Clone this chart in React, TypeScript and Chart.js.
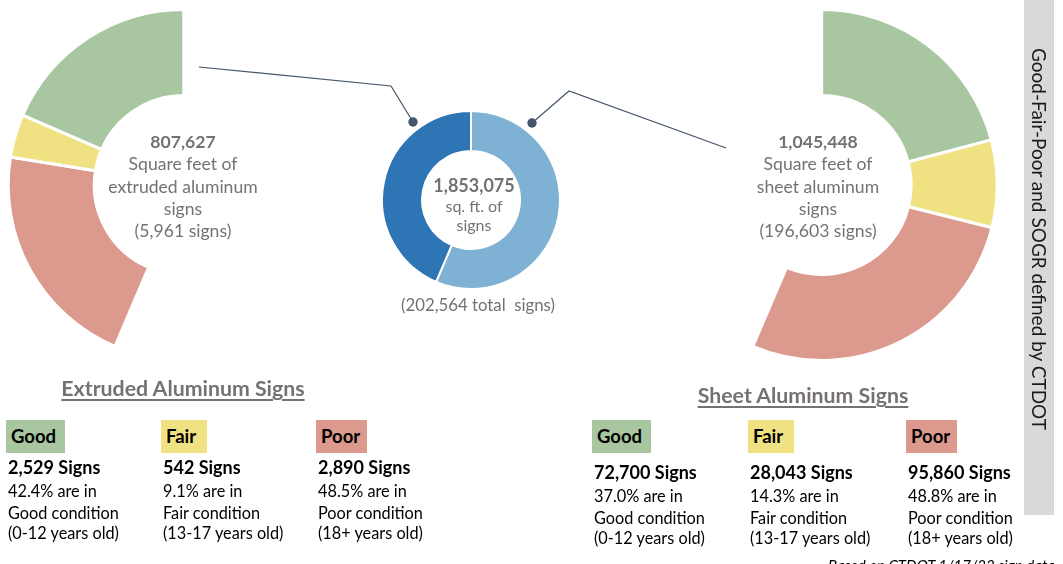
import { useEffect, useRef } from "react";
import { Chart, registerables } from "chart.js";
Chart.register(...registerables);

// ---------- data ----------
const conditions = ["Good", "Fair", "Poor"];
const ageRanges = ["(0-12 years old)", "(13-17 years old)", "(18+ years old)"];
const extrudedSigns = [2529, 542, 2890];
const sheetSigns = [72700, 28043, 95860];
const extrudedPct = ["42.4%", "9.1%", "48.5%"];
const sheetPct = ["37.0%", "14.3%", "48.8%"];
const materials = ["Sheet aluminum", "Extruded aluminum"];
const materialSqft = [1045448, 807627];
const totalSqft = 1853075;
const totalSigns = 202564;
const extrudedSignTotal = 5961;
const sheetSignTotal = 196603;

// ---------- styles ----------
const condColors = ["#A8C7A0", "#F0E282", "#DC998D"];
const materialColors = ["#7FB1D5", "#2E75B6"];
const GRAY = "#767171";
const FONT = "Lato, 'Open Sans', sans-serif";

function norm(a: number) {
  const t = Math.PI * 2;
  return ((a % t) + t) % t;
}
function between(a: number, s: number, e: number) {
  const span = e - s;
  const d = norm(a - s);
  return d <= span + 1e-9 || d >= Math.PI * 2 - 1e-9;
}
function layoutBox(rotDeg: number, circDeg: number, cut: number, R: number, m: number, cx: number, cy: number) {
  const s = ((rotDeg - 90) * Math.PI) / 180;
  const e = s + (circDeg * Math.PI) / 180;
  const sx = Math.cos(s), sy = Math.sin(s), ex = Math.cos(e), ey = Math.sin(e);
  const mx = (ang: number, a: number, b: number) => (between(ang, s, e) ? 1 : Math.max(a, a * cut, b, b * cut));
  const mn = (ang: number, a: number, b: number) => (between(ang, s, e) ? -1 : Math.min(a, a * cut, b, b * cut));
  let rx = 1, ry = 1, ox = 0, oy = 0;
  if (circDeg < 360) {
    const maxX = mx(0, sx, ex), maxY = mx(Math.PI / 2, sy, ey);
    const minX = mn(Math.PI, sx, ex), minY = mn(Math.PI * 1.5, sy, ey);
    rx = (maxX - minX) / 2; ry = (maxY - minY) / 2;
    ox = -(maxX + minX) / 2; oy = -(maxY + minY) / 2;
  }
  const w = 2 * Math.ceil(rx * R + m);
  const h = 2 * Math.ceil(ry * R + m);
  const bcx = cx - ox * R;
  const bcy = cy - oy * R;
  return { w, h, left: Math.round(bcx - w / 2), top: Math.round(bcy - h / 2) };
}

type DProps = {
  cx: number; cy: number; r: number; cutout: number; rotation: number; circumference: number;
  labels: string[]; data: number[]; colors: string[]; border: number;
};

function Doughnut(p: DProps) {
  const ref = useRef<HTMLCanvasElement>(null);
  const box = layoutBox(p.rotation, p.circumference, p.cutout / 100, p.r, p.border + 4, p.cx, p.cy);
  useEffect(() => {
    const chart = new Chart(ref.current!, {
      type: "doughnut",
      data: {
        labels: p.labels,
        datasets: [{ data: p.data, backgroundColor: p.colors, borderColor: "#ffffff", borderWidth: p.border }],
      },
      options: {
        responsive: false,
        animation: false,
        events: [],
        rotation: p.rotation,
        circumference: p.circumference,
        cutout: p.cutout + "%",
        radius: p.r,
        layout: { padding: 0 },
        plugins: { legend: { display: false }, tooltip: { enabled: false } },
      } as any,
    });
    return () => chart.destroy();
  }, []);
  return (
    <canvas
      ref={ref}
      width={box.w}
      height={box.h}
      style={{ position: "absolute", left: box.left, top: box.top, width: box.w, height: box.h }}
    />
  );
}

const fmt = (n: number) => n.toLocaleString("en-US");

function ConditionBlock({ x, boxTop, textTop, idx, count, pct }: { x: number; boxTop: number; textTop: number; idx: number; count: number; pct: string }) {
  const boxW = [59, 46, 51][idx];
  return (
    <>
      <div
        style={{
          position: "absolute", left: x - 2, top: boxTop, width: boxW, height: 33, background: condColors[idx],
          fontFamily: FONT, fontWeight: 700, fontSize: 18.5, lineHeight: "33px", paddingLeft: 5, boxSizing: "border-box", color: "#000", whiteSpace: "nowrap",
        }}
      >
        {conditions[idx]}
      </div>
      <div style={{ position: "absolute", left: x, top: textTop, fontFamily: FONT, color: "#000", whiteSpace: "nowrap" }}>
        <div style={{ fontWeight: 700, fontSize: 18, lineHeight: "25px" }}>{fmt(count)} Signs</div>
        <div style={{ fontSize: 16.3, lineHeight: "22px" }}>{pct} are in</div>
        <div style={{ fontSize: 16.3, lineHeight: "21px" }}>{conditions[idx]} condition</div>
        <div style={{ fontSize: 16.3, lineHeight: "20px" }}>{ageRanges[idx]}</div>
      </div>
    </>
  );
}

export default function App() {
  const leftCirc = (360 * materialSqft[1]) / totalSqft;
  const rightCirc = (360 * materialSqft[0]) / totalSqft;
  const leftCols = [8, 163, 318];
  const rightCols = [594, 750, 908];
  return (
    <div style={{ position: "fixed", left: 0, top: 0, width: 1063, height: 564, overflow: "hidden", background: "#fff" }}>
      <Doughnut
        cx={184} cy={185} r={175.5} cutout={51} rotation={-leftCirc} circumference={leftCirc}
        labels={[...conditions].reverse()} data={[...extrudedSigns].reverse()} colors={[...condColors].reverse()} border={3}
      />
      <Doughnut
        cx={822} cy={185} r={175.5} cutout={51} rotation={0} circumference={rightCirc}
        labels={conditions} data={sheetSigns} colors={condColors} border={3}
      />
      <Doughnut
        cx={471} cy={199.5} r={89} cutout={55} rotation={0} circumference={360}
        labels={materials} data={materialSqft} colors={materialColors} border={2}
      />

      <svg width={1063} height={564} style={{ position: "absolute", left: 0, top: 0 }}>
        <polyline points="199,67 391,86 413,122" fill="none" stroke="#44546A" strokeWidth={1.2} />
        <circle cx={413} cy={122} r={4.7} fill="#44546A" />
        <polyline points="532,123 569,91 726,148" fill="none" stroke="#44546A" strokeWidth={1.2} />
        <circle cx={532} cy={123} r={4.7} fill="#44546A" />
      </svg>

      {/* left center text */}
      <div style={{ position: "absolute", left: 83, width: 200, top: 131, textAlign: "center", fontFamily: FONT, color: GRAY, fontSize: 17.6, lineHeight: "22.3px", whiteSpace: "nowrap" }}>
        <div style={{ fontWeight: 700 }}>{fmt(materialSqft[1])}</div>
        <div>Square feet of</div>
        <div>extruded aluminum</div>
        <div>signs</div>
        <div>({fmt(extrudedSignTotal)} signs)</div>
      </div>

      {/* right center text */}
      <div style={{ position: "absolute", left: 718, width: 200, top: 131, textAlign: "center", fontFamily: FONT, color: GRAY, fontSize: 17.6, lineHeight: "22.3px", whiteSpace: "nowrap" }}>
        <div style={{ fontWeight: 700 }}>{fmt(materialSqft[0])}</div>
        <div>Square feet of</div>
        <div>sheet aluminum</div>
        <div>signs</div>
        <div>({fmt(sheetSignTotal)} signs)</div>
      </div>

      {/* middle text */}
      <div style={{ position: "absolute", left: 414, width: 120, top: 176, textAlign: "center", fontFamily: FONT, color: GRAY, fontSize: 16, lineHeight: "19.5px" }}>
        <div style={{ fontWeight: 700, fontSize: 18 }}>{fmt(totalSqft)}</div>
        <div>sq. ft. of</div>
        <div>signs</div>
      </div>
      <div style={{ position: "absolute", left: 378, width: 200, top: 293, textAlign: "center", fontFamily: FONT, color: GRAY, fontSize: 16.8, lineHeight: "24px", whiteSpace: "pre" }}>
        ({fmt(totalSigns)} total  signs)
      </div>

      {/* titles */}
      <div style={{ position: "absolute", left: 33, width: 300, top: 374, textAlign: "center", fontFamily: FONT, color: GRAY, fontWeight: 700, fontSize: 21.3, lineHeight: "28px", textDecoration: "underline", textUnderlineOffset: 3, whiteSpace: "nowrap" }}>
        Extruded Aluminum Signs
      </div>
      <div style={{ position: "absolute", left: 653, width: 300, top: 381, textAlign: "center", fontFamily: FONT, color: GRAY, fontWeight: 700, fontSize: 21.3, lineHeight: "28px", textDecoration: "underline", textUnderlineOffset: 3, whiteSpace: "nowrap" }}>
        Sheet Aluminum Signs
      </div>

      {conditions.map((c, i) => (
        <ConditionBlock key={"l" + c} x={leftCols[i]} boxTop={420} textTop={455} idx={i} count={extrudedSigns[i]} pct={extrudedPct[i]} />
      ))}
      {conditions.map((c, i) => (
        <ConditionBlock key={"r" + c} x={rightCols[i]} boxTop={420} textTop={460} idx={i} count={sheetSigns[i]} pct={sheetPct[i]} />
      ))}

      {/* side bar */}
      <div style={{ position: "absolute", left: 1024, top: 0, width: 30, height: 515, background: "#D9D9D9" }} />
      <div style={{ position: "absolute", left: 1026, top: 48, width: 26, height: 440, writingMode: "vertical-rl", fontFamily: FONT, fontSize: 19, lineHeight: "26px", color: "#1a1a1a", whiteSpace: "nowrap" }}>
        Good-Fair-Poor and SOGR defined by CTDOT
      </div>

      {/* footnote */}
      <div style={{ position: "absolute", left: 828, top: 557, fontFamily: FONT, fontStyle: "italic", fontSize: 15, lineHeight: "16px", color: "#000", whiteSpace: "nowrap" }}>
        Based on CTDOT 1/17/22 sign data
      </div>
    </div>
  );
}
